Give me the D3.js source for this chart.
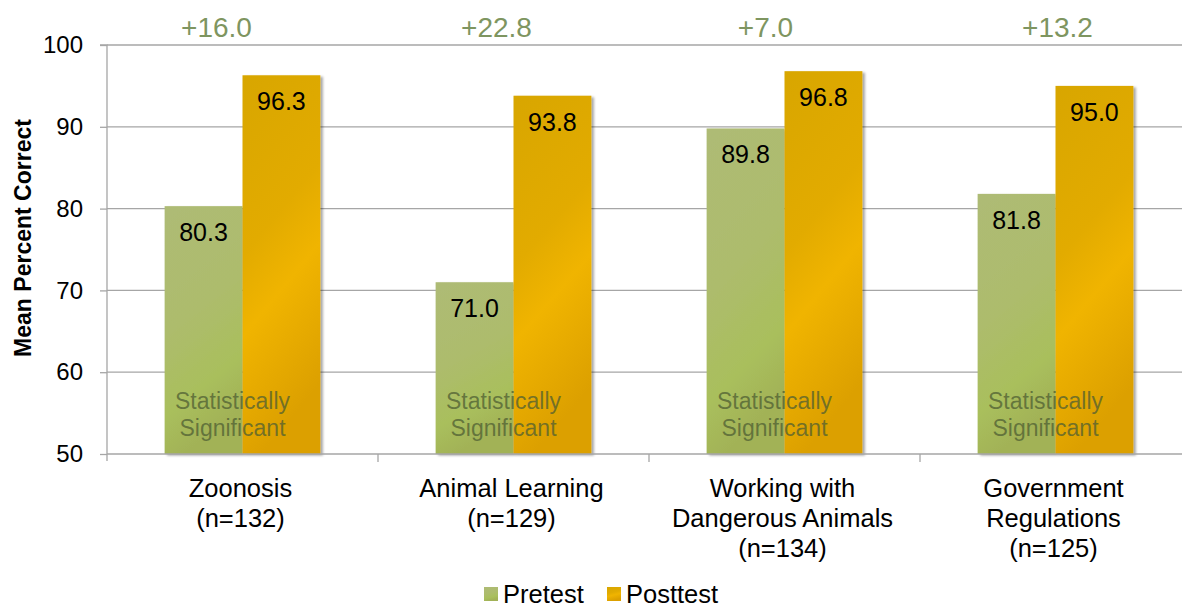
<!DOCTYPE html>
<html><head><meta charset="utf-8">
<script src="https://cdn.jsdelivr.net/npm/d3@7"></script>
<style>body{margin:0;background:#fff;font-family:"Liberation Sans",Arial,sans-serif}</style>
</head><body><svg id="c" width="1182" height="608"></svg>
<script>
const categories = [["Zoonosis","(n=132)"],["Animal Learning","(n=129)"],["Working with","Dangerous Animals","(n=134)"],["Government","Regulations","(n=125)"]];
const series = ["Pretest","Posttest"];
const pretest = [80.3, 71.0, 89.8, 81.8];
const posttest = [96.3, 93.8, 96.8, 95.0];
const deltas = ["+16.0","+22.8","+7.0","+13.2"];
const sigLabel = ["Statistically","Significant"];
const yTicks = [50,60,70,80,90,100];

const svg = d3.select("#c");
const M = {l:107, r:1191, t:45, b:454};
const defs = svg.append("defs");
function grad(id, stops){
  const g = defs.append("linearGradient").attr("id",id).attr("x1","0").attr("y1","0").attr("x2","0.25").attr("y2","1");
  stops.forEach(s=>g.append("stop").attr("offset",s[0]).attr("stop-color",s[1]));
}
grad("gPre",[[0,"#AEBB75"],[0.5,"#ADBC6C"],[0.8,"#A9BF5C"],[1,"#A2B257"]]);
grad("gPost",[[0,"#D8A600"],[0.45,"#E2AB00"],[0.65,"#F0B400"],[1,"#DCA000"]]);
const f = defs.append("filter").attr("id","sh").attr("x","-10%").attr("y","-10%").attr("width","130%").attr("height","130%");
f.append("feDropShadow").attr("dx",2.5).attr("dy",1.5).attr("stdDeviation",1.2).attr("flood-color","#000").attr("flood-opacity",0.35);

const x0 = d3.scaleBand().domain(d3.range(categories.length)).range([M.l,M.r]);
const x1 = d3.scaleBand().domain(series).range([0,x0.bandwidth()]).paddingOuter(0.74).paddingInner(0);
const y = d3.scaleLinear().domain([50,100]).range([M.b,M.t]);

// gridlines
svg.append("g").selectAll("line").data(yTicks.slice(1)).join("line")
  .attr("x1",M.l).attr("x2",1182).attr("y1",d=>y(d)).attr("y2",d=>y(d))
  .attr("stroke","#A6A6A6").attr("stroke-width",1.3);

// bars
const vals = [pretest, posttest];
const fills = ["url(#gPre)","url(#gPost)"];
const bars = svg.append("g");
categories.forEach((c,i)=>{
  series.forEach((s,j)=>{
    bars.append("rect").attr("x",x0(i)+x1(s)).attr("width",x1.bandwidth())
      .attr("y",y(vals[j][i])).attr("height",y(50)-y(vals[j][i]))
      .attr("fill",fills[j]).attr("filter","url(#sh)");
  });
});

// axes
const yAxis = d3.axisLeft(y).tickValues(yTicks).tickSize(7).tickPadding(17).tickFormat(d3.format("d"));
const ga = svg.append("g").attr("transform",`translate(${M.l},0)`).call(yAxis);
ga.select(".domain").attr("stroke","#A6A6A6").attr("stroke-width",1.3).attr("d",`M-7,${M.t}H0V${M.b+7}`);
ga.selectAll(".tick line").attr("stroke","#A6A6A6").attr("stroke-width",1.3);
ga.selectAll(".tick text").attr("font-size",24).attr("fill","#000").attr("font-family","Liberation Sans, Arial");

svg.append("line").attr("x1",M.l).attr("x2",1182).attr("y1",M.b).attr("y2",M.b).attr("stroke","#A6A6A6").attr("stroke-width",1.3);
svg.append("g").selectAll("line").data(d3.range(1,categories.length)).join("line")
  .attr("x1",d=>x0(d)).attr("x2",d=>x0(d)).attr("y1",M.b).attr("y2",M.b+8).attr("stroke","#A6A6A6").attr("stroke-width",1.3);

// value labels
categories.forEach((c,i)=>{
  series.forEach((s,j)=>{
    svg.append("text").attr("x",x0(i)+x1(s)+x1.bandwidth()/2).attr("y",y(vals[j][i])+35)
      .attr("text-anchor","middle").attr("font-size",25).attr("fill","#000").text(vals[j][i].toFixed(1));
  });
});

// significance labels
categories.forEach((c,i)=>{
  const cx = x0(i)+x0.bandwidth()/2 - 10;
  sigLabel.forEach((t,k)=>{
    svg.append("text").attr("x",cx).attr("y",409+k*27).attr("text-anchor","middle")
      .attr("font-size",23).attr("fill","#4F5F33").attr("fill-opacity",0.75).text(t);
  });
});

// delta labels
const deltaDx = [-26,-17,-19,2];
deltas.forEach((d,i)=>{
  svg.append("text").attr("x",x0(i)+x0.bandwidth()/2+deltaDx[i]).attr("y",37).attr("text-anchor","middle")
    .attr("font-size",28).attr("fill","#7E9560").text(d);
});

// category labels
categories.forEach((c,i)=>{
  c.forEach((t,k)=>{
    svg.append("text").attr("x",x0(i)+x0.bandwidth()/2 - 2).attr("y",497+k*30).attr("text-anchor","middle")
      .attr("font-size",25.5).attr("fill","#000").text(t);
  });
});

// y title
svg.append("text").attr("transform","translate(31,238) rotate(-90)").attr("text-anchor","middle")
  .attr("font-size",23).attr("font-weight","bold").attr("fill","#000").text("Mean Percent Correct");

// legend
const legX = [484, 607];
series.forEach((s,j)=>{
  svg.append("rect").attr("x",legX[j]).attr("y",587).attr("width",14).attr("height",14).attr("fill",fills[j]);
  svg.append("text").attr("x",legX[j]+19).attr("y",603).attr("font-size",25.5).attr("fill","#000").text(s);
});
</script></body></html>
